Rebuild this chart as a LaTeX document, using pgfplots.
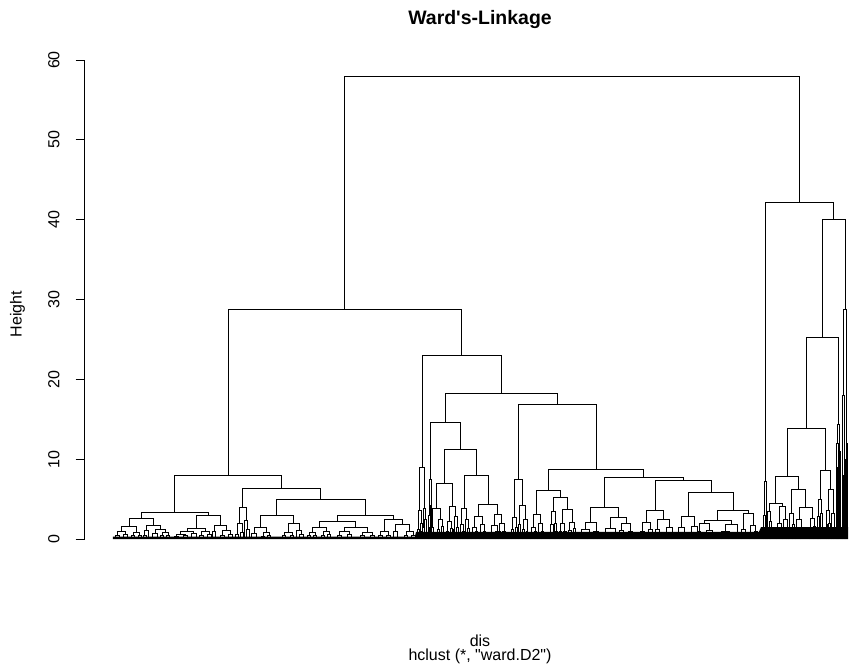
\documentclass[border=0pt]{standalone}
\usepackage{fontspec}
\setmainfont{Liberation Sans}
\usepackage{pgfplots}
\pgfplotsset{compat=1.18}
\newcommand{\sq}{\XeTeXglyph\XeTeXcharglyph"27\relax}
\newcommand{\dq}{\XeTeXglyph\XeTeXcharglyph"22\relax}
\begin{document}
\begin{tikzpicture}
\path[use as bounding box] (-63.75pt,-97.5pt) rectangle (573pt,404.25pt);
\begin{axis}[
  at={(0,0)}, anchor=south west,
  scale only axis, width=573pt, height=359.25pt,
  xmin=85, xmax=849, ymin=0, ymax=60,
  axis x line=none, axis y line=left,
  axis line style={-, line width=0.75pt, black},
  ytick={0,10,20,30,40,50,60},
  tick align=outside, major tick length=7pt,
  tick style={black, line width=0.75pt},
  yticklabel style={rotate=90, anchor=base, yshift=12.2pt, font=\fontsize{12}{14}\selectfont},
  /pgf/number format/assume math mode=true,
  clip=false, unbounded coords=jump,
]
% dense leaf band
\addplot[fill=black, draw=none] coordinates {(113,0) (113,0.3) (415,0.3) (416,0.9) (759,0.9) (761,1.5) (848,1.5) (848,0)} \closedcycle;
% root and left cluster
\addplot[black, line width=0.75pt] coordinates {
(344.9,28.8)(344.9,57.9)(799.55,57.9)(799.55,42.2)(nan,nan)
(228.2,7.9)(228.2,28.8)(461.65,28.8)(461.65,23.0)(nan,nan)
(174.65,3.34)(174.65,7.9)(281.7,7.9)(281.7,6.35)(nan,nan)
(141.3,2.6)(141.3,3.34)(208,3.34)(208,3.0)(nan,nan)
(129.3,1.55)(129.3,2.6)(153.3,2.6)(153.3,1.75)(nan,nan)
(121.7,1.0)(121.7,1.55)(136.7,1.55)(136.7,0.8)(nan,nan)
(117.5,0.5)(117.5,1.0)(126,1.0)(126,0.6)(nan,nan)
(115.5,0)(115.5,0.5)(119.5,0.5)(119.5,0)(nan,nan)
(124,0)(124,0.6)(128,0.6)(128,0)(nan,nan)
(133.5,0.4)(133.5,0.8)(140,0.8)(140,0.5)(nan,nan)
(132,0)(132,0.4)(135,0.4)(135,0)(nan,nan)
(138.5,0)(138.5,0.5)(141.5,0.5)(141.5,0)(nan,nan)
(146.7,1.1)(146.7,1.75)(160,1.75)(160,1.2)(nan,nan)
(145,0.4)(145,1.1)(148.5,1.1)(148.5,0)(nan,nan)
(143.5,0)(143.5,0.4)(146.5,0.4)(146.5,0)(nan,nan)
(155,0.7)(155,1.2)(165,1.2)(165,0.8)(nan,nan)
(152.5,0)(152.5,0.7)(157.5,0.7)(157.5,0)(nan,nan)
(162,0.4)(162,0.8)(168,0.8)(168,0.5)(nan,nan)
(160.5,0)(160.5,0.4)(163.5,0.4)(163.5,0)(nan,nan)
(166.5,0)(166.5,0.5)(169.5,0.5)(169.5,0)(nan,nan)
(196,1.33)(196,3.0)(220,3.0)(220,1.75)(nan,nan)
(187,0.9)(187,1.33)(205,1.33)(205,1.0)(nan,nan)
(180.5,0.6)(180.5,0.9)(193.5,0.9)(193.5,0.7)(nan,nan)
(176,0.3)(176,0.6)(185,0.6)(185,0.4)(nan,nan)
(174,0)(174,0.3)(178,0.3)(178,0)(nan,nan)
(183,0)(183,0.4)(187,0.4)(187,0)(nan,nan)
(191,0)(191,0.7)(196,0.7)(196,0)(nan,nan)
(201,0.5)(201,1.0)(209,1.0)(209,0.6)(nan,nan)
(199,0)(199,0.5)(203,0.5)(203,0)(nan,nan)
(207,0)(207,0.6)(211,0.6)(211,0)(nan,nan)
(214,0.9)(214,1.75)(226,1.75)(226,1.1)(nan,nan)
(212.5,0)(212.5,0.9)(215.5,0.9)(215.5,0)(nan,nan)
(222,0.5)(222,1.1)(230,1.1)(230,0.6)(nan,nan)
(220,0)(220,0.5)(224,0.5)(224,0)(nan,nan)
(228,0)(228,0.6)(232,0.6)(232,0)(nan,nan)
(242.75,3.97)(242.75,6.35)(320.85,6.35)(320.85,5.0)(nan,nan)
(239.5,2.0)(239.5,3.97)(246,3.97)(246,2.3)(nan,nan)
(237,0.6)(237,2.0)(242,2.0)(242,0.8)(nan,nan)
(235.5,0)(235.5,0.6)(238.5,0.6)(238.5,0)(nan,nan)
(240.5,0)(240.5,0.8)(243.5,0.8)(243.5,0)(nan,nan)
(244.5,0)(244.5,2.3)(247.5,2.3)(247.5,1.2)(nan,nan)
(246,0)(246,1.2)(249,1.2)(249,0)(nan,nan)
(276.75,2.92)(276.75,5.0)(365,5.0)(365,3.0)(nan,nan)
(260,1.4)(260,2.92)(293.5,2.92)(293.5,1.96)(nan,nan)
(254,0.7)(254,1.4)(266,1.4)(266,0.8)(nan,nan)
(251.5,0)(251.5,0.7)(256.5,0.7)(256.5,0)(nan,nan)
(263,0.3)(263,0.8)(269,0.8)(269,0.4)(nan,nan)
(261.5,0)(261.5,0.3)(264.5,0.3)(264.5,0)(nan,nan)
(267.5,0)(267.5,0.4)(270.5,0.4)(270.5,0)(nan,nan)
(288,0.8)(288,1.96)(299,1.96)(299,1.1)(nan,nan)
(284,0.4)(284,0.8)(292,0.8)(292,0.5)(nan,nan)
(282.5,0)(282.5,0.4)(285.5,0.4)(285.5,0)(nan,nan)
(290.5,0)(290.5,0.5)(293.5,0.5)(293.5,0)(nan,nan)
(296.5,0)(296.5,1.1)(301.5,1.1)(301.5,0.6)(nan,nan)
(299.5,0)(299.5,0.6)(303.5,0.6)(303.5,0)(nan,nan)
(337.3,2.17)(337.3,3.0)(393.3,3.0)(393.3,2.5)(nan,nan)
(319,1.42)(319,2.17)(355.6,2.17)(355.6,1.46)(nan,nan)
(312,0.8)(312,1.42)(326,1.42)(326,0.9)(nan,nan)
(309,0.4)(309,0.8)(315,0.8)(315,0.5)(nan,nan)
(307.5,0)(307.5,0.4)(310.5,0.4)(310.5,0)(nan,nan)
(313.5,0)(313.5,0.5)(316.5,0.5)(316.5,0)(nan,nan)
(323,0.5)(323,0.9)(329,0.9)(329,0.6)(nan,nan)
(321.5,0)(321.5,0.5)(324.5,0.5)(324.5,0)(nan,nan)
(327.5,0)(327.5,0.6)(330.5,0.6)(330.5,0)(nan,nan)
(344,0.9)(344,1.46)(367.2,1.46)(367.2,0.8)(nan,nan)
(339,0.4)(339,0.9)(349,0.9)(349,0.6)(nan,nan)
(337,0)(337,0.4)(341,0.4)(341,0)(nan,nan)
(347,0)(347,0.6)(351,0.6)(351,0)(nan,nan)
(362,0.4)(362,0.8)(372.4,0.8)(372.4,0.5)(nan,nan)
(360,0)(360,0.4)(364,0.4)(364,0)(nan,nan)
(370,0)(370,0.5)(374.8,0.5)(374.8,0)(nan,nan)
(384.3,1.0)(384.3,2.5)(402.3,2.5)(402.3,1.84)(nan,nan)
(380,0.5)(380,1.0)(388.6,1.0)(388.6,0.4)(nan,nan)
(378,0)(378,0.5)(382,0.5)(382,0)(nan,nan)
(386.6,0)(386.6,0.4)(390.6,0.4)(390.6,0)(nan,nan)
(395,0.9)(395,1.84)(409.6,1.84)(409.6,1.0)(nan,nan)
(393,0)(393,0.9)(397,0.9)(397,0)(nan,nan)
(406,0.4)(406,1.0)(413.2,1.0)(413.2,0.5)(nan,nan)
(404.5,0)(404.5,0.4)(407.5,0.4)(407.5,0)(nan,nan)
(411.2,0)(411.2,0.5)(415.2,0.5)(415.2,0)
};
% middle cluster
\addplot[black, line width=0.75pt] coordinates {
(422,8.93)(422,23.0)(501.3,23.0)(501.3,18.2)(nan,nan)
(419.5,3.6)(419.5,8.93)(424.5,8.93)(424.5,3.8)(nan,nan)
(418,1.2)(418,3.6)(421,3.6)(421,2.0)(nan,nan)
(417,0)(417,1.2)(419,1.2)(419,0)(nan,nan)
(420,0)(420,2.0)(422,2.0)(422,1.0)(nan,nan)
(421.2,0)(421.2,1.0)(422.8,1.0)(422.8,0)(nan,nan)
(423.5,1.5)(423.5,3.8)(425.5,3.8)(425.5,2.4)(nan,nan)
(422.8,0)(422.8,1.5)(424.2,1.5)(424.2,0)(nan,nan)
(424.8,0)(424.8,2.4)(426.2,2.4)(426.2,0)(nan,nan)
(445.35,14.6)(445.35,18.2)(557.25,18.2)(557.25,16.8)(nan,nan)
(430,7.4)(430,14.6)(460.3,14.6)(460.3,11.27)(nan,nan)
(429,3.0)(429,7.4)(431,7.4)(431,4.2)(nan,nan)
(428,0)(428,3.0)(430,3.0)(430,1.5)(nan,nan)
(429.3,0)(429.3,1.5)(430.7,1.5)(430.7,0)(nan,nan)
(430.5,2.0)(430.5,4.2)(431.5,4.2)(431.5,0)(nan,nan)
(430,0)(430,2.0)(431,2.0)(431,0)(nan,nan)
(444.5,6.9)(444.5,11.27)(476.15,11.27)(476.15,7.93)(nan,nan)
(436.5,3.84)(436.5,6.9)(452.5,6.9)(452.5,4.13)(nan,nan)
(432.5,1.5)(432.5,3.84)(440.5,3.84)(440.5,2.5)(nan,nan)
(431.5,0)(431.5,1.5)(433.5,1.5)(433.5,0.8)(nan,nan)
(432.7,0)(432.7,0.8)(434.3,0.8)(434.3,0)(nan,nan)
(438.5,1.2)(438.5,2.5)(442.5,2.5)(442.5,1.6)(nan,nan)
(437.5,0)(437.5,1.2)(439.5,1.2)(439.5,0)(nan,nan)
(441.5,0)(441.5,1.6)(443.5,1.6)(443.5,0)(nan,nan)
(449.5,2.2)(449.5,4.13)(455.5,4.13)(455.5,2.8)(nan,nan)
(447.5,1.0)(447.5,2.2)(451.5,2.2)(451.5,1.3)(nan,nan)
(446.5,0)(446.5,1.0)(448.5,1.0)(448.5,0)(nan,nan)
(450.5,0)(450.5,1.3)(452.5,1.3)(452.5,0)(nan,nan)
(454,1.2)(454,2.8)(457,2.8)(457,1.5)(nan,nan)
(453.2,0)(453.2,1.2)(454.8,1.2)(454.8,0)(nan,nan)
(456,0)(456,1.5)(458,1.5)(458,0)(nan,nan)
(464.2,3.76)(464.2,7.93)(488.1,7.93)(488.1,4.26)(nan,nan)
(461.7,1.8)(461.7,3.76)(466.7,3.76)(466.7,2.5)(nan,nan)
(460.2,0)(460.2,1.8)(463.2,1.8)(463.2,0.9)(nan,nan)
(462.4,0)(462.4,0.9)(464,0.9)(464,0)(nan,nan)
(465.2,1.0)(465.2,2.5)(468.2,2.5)(468.2,1.3)(nan,nan)
(464.5,0)(464.5,1.0)(465.9,1.0)(465.9,0)(nan,nan)
(467.4,0)(467.4,1.3)(469,1.3)(469,0)(nan,nan)
(478.3,2.88)(478.3,4.26)(497.9,4.26)(497.9,3.13)(nan,nan)
(474,1.5)(474,2.88)(482.6,2.88)(482.6,1.8)(nan,nan)
(472,0.7)(472,1.5)(476,1.5)(476,0.9)(nan,nan)
(471,0)(471,0.7)(473,0.7)(473,0)(nan,nan)
(475,0)(475,0.9)(477,0.9)(477,0)(nan,nan)
(480.6,0.8)(480.6,1.8)(484.6,1.8)(484.6,1.0)(nan,nan)
(479.6,0)(479.6,0.8)(481.6,0.8)(481.6,0)(nan,nan)
(483.6,0)(483.6,1.0)(485.6,1.0)(485.6,0)(nan,nan)
(494,1.7)(494,3.13)(501.8,3.13)(501.8,2.0)(nan,nan)
(491,0.8)(491,1.7)(497,1.7)(497,1.0)(nan,nan)
(489.5,0)(489.5,0.8)(492.5,0.8)(492.5,0)(nan,nan)
(495.5,0)(495.5,1.0)(498.5,1.0)(498.5,0)(nan,nan)
(499.6,1.0)(499.6,2.0)(504,2.0)(504,0.9)(nan,nan)
(498.8,0)(498.8,1.0)(500.4,1.0)(500.4,0)(nan,nan)
(502.6,0)(502.6,0.9)(505.4,0.9)(505.4,0)(nan,nan)
(518.4,7.4)(518.4,16.8)(596.1,16.8)(596.1,8.73)(nan,nan)
(514.5,2.7)(514.5,7.4)(522.3,7.4)(522.3,4.2)(nan,nan)
(512.5,1.2)(512.5,2.7)(516.5,2.7)(516.5,1.5)(nan,nan)
(511.5,0)(511.5,1.2)(513.5,1.2)(513.5,0)(nan,nan)
(515.5,0)(515.5,1.5)(517.5,1.5)(517.5,0)(nan,nan)
(519.3,1.8)(519.3,4.2)(525.3,4.2)(525.3,2.5)(nan,nan)
(518.5,0)(518.5,1.8)(520.1,1.8)(520.1,0)(nan,nan)
(523.5,1.2)(523.5,2.5)(527.1,2.5)(527.1,1.0)(nan,nan)
(522.7,0)(522.7,1.2)(524.3,1.2)(524.3,0)(nan,nan)
(526.3,0)(526.3,1.0)(527.9,1.0)(527.9,0)(nan,nan)
(548.5,6.05)(548.5,8.73)(643.65,8.73)(643.65,7.7)(nan,nan)
(536.5,3.1)(536.5,6.05)(560.5,6.05)(560.5,5.2)(nan,nan)
(533,1.5)(533,3.1)(540,3.1)(540,1.9)(nan,nan)
(531,0.7)(531,1.5)(535,1.5)(535,0.9)(nan,nan)
(530,0)(530,0.7)(532,0.7)(532,0)(nan,nan)
(534,0)(534,0.9)(536,0.9)(536,0)(nan,nan)
(538,0.8)(538,1.9)(542,1.9)(542,1.0)(nan,nan)
(537,0)(537,0.8)(539,0.8)(539,0)(nan,nan)
(541,0)(541,1.0)(543,1.0)(543,0)(nan,nan)
(553.5,3.43)(553.5,5.2)(567.5,5.2)(567.5,3.7)(nan,nan)
(551.5,1.8)(551.5,3.43)(555.5,3.43)(555.5,2.0)(nan,nan)
(550,0.8)(550,1.8)(553,1.8)(553,0)(nan,nan)
(549,0)(549,0.8)(551,0.8)(551,0)(nan,nan)
(554.5,0)(554.5,2.0)(556.5,2.0)(556.5,1.0)(nan,nan)
(555.8,0)(555.8,1.0)(557.2,1.0)(557.2,0)(nan,nan)
(562.7,1.9)(562.7,3.7)(572.3,3.7)(572.3,2.1)(nan,nan)
(560.5,0.9)(560.5,1.9)(564.9,1.9)(564.9,1.0)(nan,nan)
(559.3,0)(559.3,0.9)(561.7,0.9)(561.7,0)(nan,nan)
(563.7,0)(563.7,1.0)(566.1,1.0)(566.1,0)(nan,nan)
(569.9,1.1)(569.9,2.1)(574.7,2.1)(574.7,1.3)(nan,nan)
(568.7,0)(568.7,1.1)(571.1,1.1)(571.1,0)(nan,nan)
(573.5,0)(573.5,1.3)(575.9,1.3)(575.9,0)(nan,nan)
(604.3,3.97)(604.3,7.7)(683,7.7)(683,7.27)(nan,nan)
(590.5,2.05)(590.5,3.97)(618,3.97)(618,2.67)(nan,nan)
(585,1.2)(585,2.05)(596,2.05)(596,1.0)(nan,nan)
(581,0.6)(581,1.2)(589,1.2)(589,0.7)(nan,nan)
(579,0)(579,0.6)(583,0.6)(583,0)(nan,nan)
(587,0)(587,0.7)(591,0.7)(591,0)(nan,nan)
(593.5,0)(593.5,1.0)(598.5,1.0)(598.5,0.5)(nan,nan)
(597,0)(597,0.5)(600,0.5)(600,0)(nan,nan)
(610,1.33)(610,2.67)(626,2.67)(626,1.96)(nan,nan)
(605,0.6)(605,1.33)(615,1.33)(615,0.7)(nan,nan)
(602.5,0)(602.5,0.6)(607.5,0.6)(607.5,0)(nan,nan)
(613,0)(613,0.7)(617,0.7)(617,0)(nan,nan)
(621.5,1.1)(621.5,1.96)(630.5,1.96)(630.5,0.9)(nan,nan)
(619.5,0)(619.5,1.1)(623.5,1.1)(623.5,0)(nan,nan)
(628.5,0)(628.5,0.9)(632.5,0.9)(632.5,0)(nan,nan)
(655,3.63)(655,7.27)(711,7.27)(711,5.85)(nan,nan)
(646.7,2.05)(646.7,3.63)(663.3,3.63)(663.3,2.5)(nan,nan)
(642.5,1.0)(642.5,2.05)(650.9,2.05)(650.9,1.2)(nan,nan)
(640.5,0)(640.5,1.0)(644.5,1.0)(644.5,0)(nan,nan)
(648.9,0)(648.9,1.2)(652.9,1.2)(652.9,0)(nan,nan)
(657,1.2)(657,2.5)(669.6,2.5)(669.6,1.4)(nan,nan)
(655,0)(655,1.2)(659,1.2)(659,0)(nan,nan)
(666.6,0.6)(666.6,1.4)(672.6,1.4)(672.6,0.7)(nan,nan)
(665,0)(665,0.6)(668.2,0.6)(668.2,0)(nan,nan)
(671,0)(671,0.7)(674.2,0.7)(674.2,0)(nan,nan)
(688.3,2.88)(688.3,5.85)(733,5.85)(733,3.63)(nan,nan)
(681.7,1.4)(681.7,2.88)(694.9,2.88)(694.9,1.6)(nan,nan)
(678.5,0.6)(678.5,1.4)(684.9,1.4)(684.9,0.7)(nan,nan)
(677,0)(677,0.6)(680,0.6)(680,0)(nan,nan)
(683.3,0)(683.3,0.7)(686.5,0.7)(686.5,0)(nan,nan)
(691.9,0.8)(691.9,1.6)(697.9,1.6)(697.9,0)(nan,nan)
(690.3,0)(690.3,0.8)(693.5,0.8)(693.5,0)(nan,nan)
(717.7,2.38)(717.7,3.63)(748.3,3.63)(748.3,3.2)(nan,nan)
(704,1.96)(704,2.38)(731.4,2.38)(731.4,1.84)(nan,nan)
(699,1.0)(699,1.96)(709,1.96)(709,1.1)(nan,nan)
(697.5,0)(697.5,1.0)(700.5,1.0)(700.5,0)(nan,nan)
(706,0)(706,1.1)(712,1.1)(712,0.6)(nan,nan)
(710,0)(710,0.6)(714,0.6)(714,0)(nan,nan)
(725.4,1.0)(725.4,1.84)(737.4,1.84)(737.4,0)(nan,nan)
(721,0)(721,1.0)(729.8,1.0)(729.8,0.5)(nan,nan)
(728,0)(728,0.5)(731.6,0.5)(731.6,0)(nan,nan)
(743.3,1.13)(743.3,3.2)(753.3,3.2)(753.3,1.75)(nan,nan)
(741,0)(741,1.13)(745.6,1.13)(745.6,0)(nan,nan)
(750.8,0.8)(750.8,1.75)(755.8,1.75)(755.8,0.9)(nan,nan)
(749.5,0)(749.5,0.8)(752.1,0.8)(752.1,0)(nan,nan)
(754.5,0)(754.5,0.9)(757.1,0.9)(757.1,0)
};
% right cluster
\addplot[black, line width=0.75pt] coordinates {
(765.5,7.2)(765.5,42.2)(833.6,42.2)(833.6,39.96)(nan,nan)
(764.3,3.0)(764.3,7.2)(766.7,7.2)(766.7,2.0)(nan,nan)
(763,0)(763,3.0)(765.6,3.0)(765.6,1.5)(nan,nan)
(765,0)(765,1.5)(766.2,1.5)(766.2,0)(nan,nan)
(766,0)(766,2.0)(767.4,2.0)(767.4,0)(nan,nan)
(822.25,25.2)(822.25,39.96)(845,39.96)(845,28.7)(nan,nan)
(806.15,13.78)(806.15,25.2)(838.5,25.2)(838.5,14.3)(nan,nan)
(787.25,7.8)(787.25,13.78)(825.3,13.78)(825.3,8.56)(nan,nan)
(775.8,4.47)(775.8,7.8)(798.6,7.8)(798.6,6.14)(nan,nan)
(769.2,3.43)(769.2,4.47)(782.4,4.47)(782.4,4.05)(nan,nan)
(767.8,1.5)(767.8,3.43)(770.6,3.43)(770.6,2.2)(nan,nan)
(767.2,0)(767.2,1.5)(768.4,1.5)(768.4,0)(nan,nan)
(769.8,0)(769.8,2.2)(771.4,2.2)(771.4,1.0)(nan,nan)
(770.8,0)(770.8,1.0)(772,1.0)(772,0)(nan,nan)
(779.5,2.0)(779.5,4.05)(785.3,4.05)(785.3,2.4)(nan,nan)
(777.5,1.0)(777.5,2.0)(781.5,2.0)(781.5,0)(nan,nan)
(776.5,0)(776.5,1.0)(778.5,1.0)(778.5,0)(nan,nan)
(783.5,1.2)(783.5,2.4)(787.1,2.4)(787.1,0.9)(nan,nan)
(782.7,0)(782.7,1.2)(784.3,1.2)(784.3,0)(nan,nan)
(786.3,0)(786.3,0.9)(787.9,0.9)(787.9,0)(nan,nan)
(791.7,3.2)(791.7,6.14)(805.5,6.14)(805.5,3.93)(nan,nan)
(789.7,1.5)(789.7,3.2)(793.7,3.2)(793.7,1.8)(nan,nan)
(788.9,0)(788.9,1.5)(790.5,1.5)(790.5,0)(nan,nan)
(792.9,0)(792.9,1.8)(794.5,1.8)(794.5,0)(nan,nan)
(799,2.46)(799,3.93)(812,3.93)(812,2.6)(nan,nan)
(796.5,1.2)(796.5,2.46)(801.5,2.46)(801.5,1.4)(nan,nan)
(795.5,0)(795.5,1.2)(797.5,1.2)(797.5,0)(nan,nan)
(800.5,0)(800.5,1.4)(802.5,1.4)(802.5,0)(nan,nan)
(810,1.3)(810,2.6)(814,2.6)(814,1.6)(nan,nan)
(809,0)(809,1.3)(811,1.3)(811,0)(nan,nan)
(813,0)(813,1.6)(815,1.6)(815,0)(nan,nan)
(820,5.0)(820,8.56)(830.6,8.56)(830.6,6.14)(nan,nan)
(818.3,2.8)(818.3,5.0)(821.7,5.0)(821.7,3.2)(nan,nan)
(817.3,0)(817.3,2.8)(819.3,2.8)(819.3,1.5)(nan,nan)
(818.7,0)(818.7,1.5)(819.9,1.5)(819.9,0)(nan,nan)
(820.9,0)(820.9,3.2)(822.5,3.2)(822.5,0)(nan,nan)
(828.2,3.6)(828.2,6.14)(833,6.14)(833,3.2)(nan,nan)
(826.8,1.8)(826.8,3.6)(829.6,3.6)(829.6,2.0)(nan,nan)
(826,0)(826,1.8)(827.6,1.8)(827.6,0)(nan,nan)
(828.8,0)(828.8,2.0)(830.4,2.0)(830.4,0)(nan,nan)
(831.8,0)(831.8,3.2)(834.2,3.2)(834.2,1.5)(nan,nan)
(833.6,0)(833.6,1.5)(834.8,1.5)(834.8,0)(nan,nan)
(837.5,12.0)(837.5,14.3)(839.5,14.3)(839.5,11.0)(nan,nan)
(836.8,6.0)(836.8,12.0)(838.2,12.0)(838.2,9.0)(nan,nan)
(836.2,0)(836.2,6.0)(837.4,6.0)(837.4,3.0)(nan,nan)
(837,0)(837,3.0)(837.8,3.0)(837.8,0)(nan,nan)
(837.8,0)(837.8,9.0)(838.6,9.0)(838.6,4.0)(nan,nan)
(838.3,0)(838.3,4.0)(838.9,4.0)(838.9,0)(nan,nan)
(839,5.0)(839,11.0)(840,11.0)(840,0)(nan,nan)
(838.7,0)(838.7,5.0)(839.3,5.0)(839.3,0)(nan,nan)
(843.5,18.0)(843.5,28.7)(846.5,28.7)(846.5,12.0)(nan,nan)
(842.5,8.0)(842.5,18.0)(844.5,18.0)(844.5,10.0)(nan,nan)
(842,0)(842,8.0)(843,8.0)(843,4.0)(nan,nan)
(842.7,0)(842.7,4.0)(843.3,4.0)(843.3,0)(nan,nan)
(844,0)(844,10.0)(845,10.0)(845,5.0)(nan,nan)
(844.7,0)(844.7,5.0)(845.3,5.0)(845.3,0)(nan,nan)
(846,6.0)(846,12.0)(847,12.0)(847,0)(nan,nan)
(845.6,0)(845.6,6.0)(846.4,6.0)(846.4,0)
};
\end{axis}
\node[anchor=base, font=\bfseries\fontsize{14.6}{17}\selectfont] at (296.25pt,386pt) {Ward\sq s-Linkage};
\node[anchor=base, rotate=90, font=\fontsize{12}{14}\selectfont] at (-47.6pt,168.75pt) {Height};
\node[anchor=base, font=\fontsize{12}{14}\selectfont] at (296.25pt,-80.25pt) {dis};
\node[anchor=base, font=\fontsize{12}{14}\selectfont] at (296.25pt,-91.3pt) {hclust (*, \dq ward.D2\dq )};
\end{tikzpicture}
\end{document}
